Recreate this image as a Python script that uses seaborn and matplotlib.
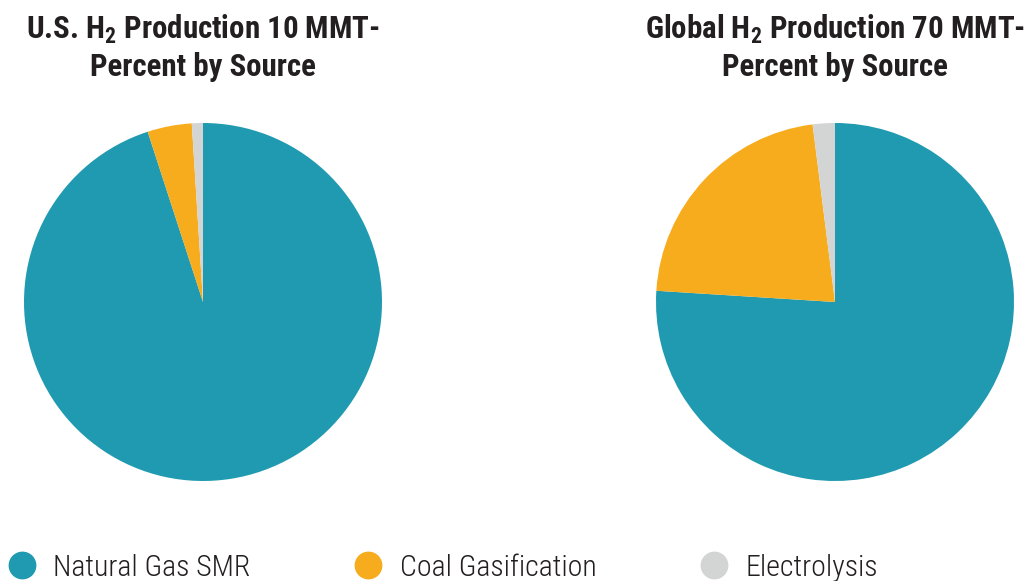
import matplotlib
matplotlib.use("Agg")
import matplotlib.pyplot as plt
from matplotlib.lines import Line2D
from matplotlib import font_manager
import seaborn as sns

sources = ["Natural Gas SMR", "Coal Gasification", "Electrolysis"]
us_share = [95, 4, 1]
global_share = [76, 22, 2]
title_top = ["U.S. H$_2$ Production 10 MMT-", "Global H$_2$ Production 70 MMT-"]
title_bottom = ["Percent by Source", "Percent by Source"]
colors = ["#1F9AB0", "#F6AC1D", "#D3D4D4"]

sns.set_theme(style="white")

# prefer a condensed face when one is installed
installed = {f.name for f in font_manager.fontManager.ttflist}
candidates = ["Roboto Condensed", "Liberation Sans Narrow", "Arial Narrow",
              "Liberation Sans"]
face = next((c for c in candidates if c in installed), "DejaVu Sans")
condensed = face in ("Roboto Condensed", "Liberation Sans Narrow", "Arial Narrow")

plt.rcParams["font.family"] = [face, "DejaVu Sans"]
plt.rcParams["mathtext.fontset"] = "custom"
plt.rcParams["mathtext.rm"] = f"{face}:bold"
plt.rcParams["mathtext.bf"] = f"{face}:bold"
plt.rcParams["mathtext.it"] = f"{face}:bold"

title_size = 22.2 if condensed else 19.5
legend_size = 21.5 if condensed else 18.5

W, H = 1029, 581
fig = plt.figure(figsize=(W / 100, H / 100), dpi=100)

r = 179
centers = [(203, 302), (835, 302)]
for i, ((cx, cy), shares) in enumerate(zip(centers, [us_share, global_share])):
    ax = fig.add_axes([(cx - r) / W, (H - cy - r) / H, 2 * r / W, 2 * r / H])
    ax.pie(shares, colors=colors, startangle=90, counterclock=False,
           radius=1, wedgeprops=dict(linewidth=0))
    ax.set_xlim(-1, 1)
    ax.set_ylim(-1, 1)
    ax.set_aspect("equal")
    ax.axis("off")
    fig.text(cx / W, 1 - 29 / H, title_top[i], ha="center", va="center",
             fontsize=title_size, fontweight="bold", color="#231F20")
    fig.text(cx / W, 1 - 67 / H, title_bottom[i], ha="center", va="center",
             fontsize=title_size, fontweight="bold", color="#231F20")

handles = [Line2D([], [], marker="o", linestyle="none", markersize=19,
                  markerfacecolor=c, markeredgecolor=c) for c in colors]
leg = fig.legend(handles, sources, loc="lower left",
                 bbox_to_anchor=(-0.005, -0.022), ncol=3, frameon=False,
                 fontsize=legend_size, handlelength=1.0, handletextpad=0.55,
                 columnspacing=3.45, labelcolor="#231F20", borderaxespad=0,
                 prop=dict(family=[face, "DejaVu Sans"], weight="light",
                           size=legend_size))

fig.savefig("out.png", dpi=100, facecolor="white")
